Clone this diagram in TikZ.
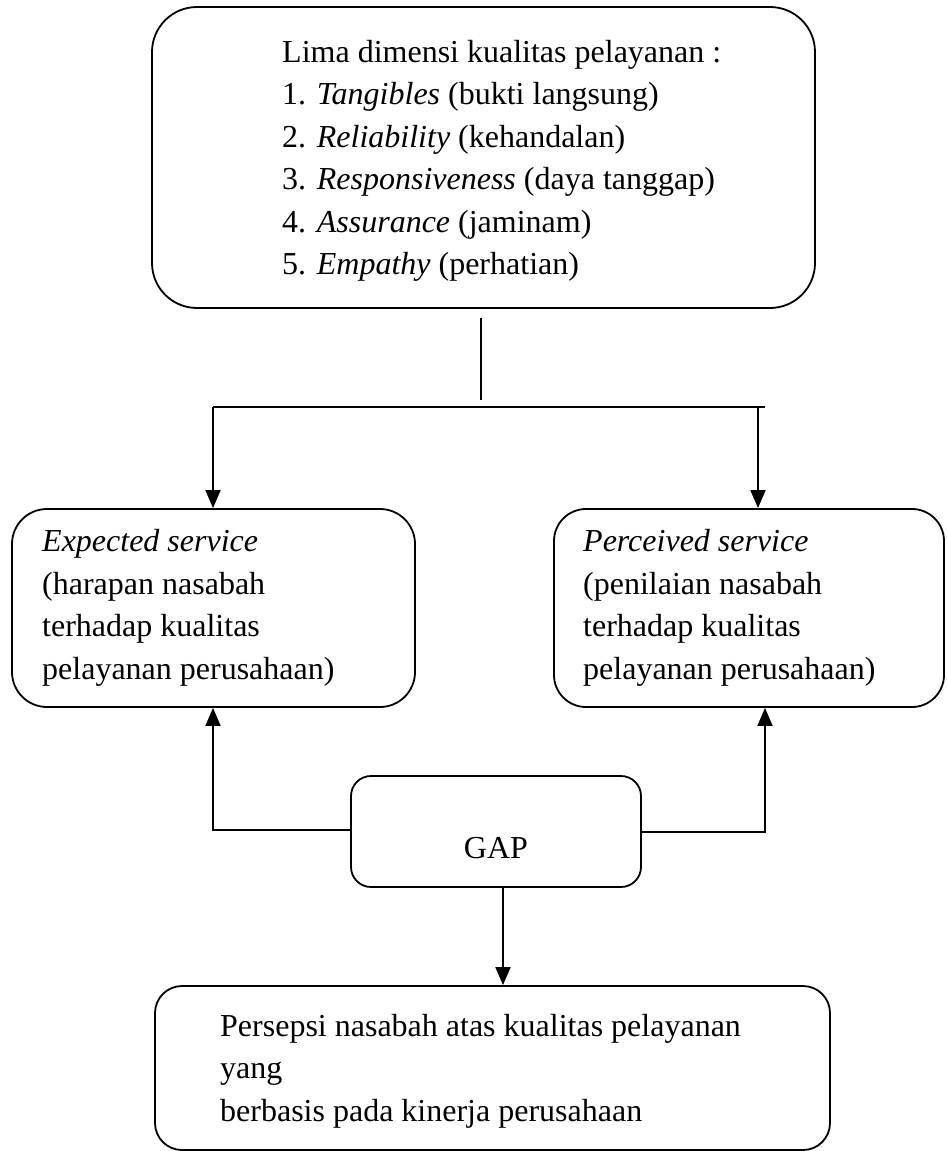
\documentclass[tikz,border=0pt]{standalone}
\usepackage{fontspec}
\setmainfont{Liberation Serif}
\usetikzlibrary{arrows.meta,calc}
\begin{document}
\begin{tikzpicture}[x=1pt,y=-1pt,
  box/.style={draw, line width=1.8pt, rectangle, inner sep=0pt},
  txt/.style={anchor=west, align=left, inner sep=0pt, font=\fontsize{32pt}{42.5pt}\selectfont},
  conn/.style={line width=1.8pt},
  arr/.style={line width=1.8pt, -{Triangle[length=18pt,width=15pt]}}]
\useasboundingbox (0,0) rectangle (946,1151);
% boxes
\node[box, rounded corners=45pt, minimum width=663pt, minimum height=301pt] (top) at (483.5,157.5) {};
\node[box, rounded corners=35pt, minimum width=403pt, minimum height=198pt] (exp) at (213.5,608) {};
\node[box, rounded corners=32pt, minimum width=390pt, minimum height=198pt] (per) at (749,608) {};
\node[box, rounded corners=20pt, minimum width=290pt, minimum height=111pt] (gap) at (496,831.5) {};
\node[box, rounded corners=27pt, minimum width=675pt, minimum height=164pt] (bot) at (492.5,1068) {};
% texts
\node[txt] (toptxt) at (282,161) {Lima dimensi kualitas pelayanan :\\
1. \textit{Tangibles} (bukti langsung)\\
2. \textit{Reliability} (kehandalan)\\
3. \textit{Responsiveness} (daya tanggap)\\
4. \textit{Assurance} (jaminam)\\
5. \textit{Empathy} (perhatian)};
\node[txt] (exptxt) at (42,608) {\textit{Expected service}\\(harapan nasabah\\terhadap kualitas\\pelayanan perusahaan)};
\node[txt] (pertxt) at (583,608) {\textit{Perceived service}\\(penilaian nasabah\\terhadap kualitas\\pelayanan perusahaan)};
\node[txt, anchor=center] (gaptxt) at (496,848) {GAP};
\node[txt] (bottxt) at (220,1071) {Persepsi nasabah atas kualitas pelayanan\\yang\\berbasis pada kinerja perusahaan};
% connectors
\coordinate (vt) at (481,318);
\coordinate (vb) at (481,400);
\draw[conn] (vt) -- (vb);
\coordinate (hl) at (213,407);
\coordinate (hr) at (765,407);
\coordinate (hra) at (758,407);
\draw[conn] (hl) -- (hr);
\draw[arr] (hl) -- (hl |- exp.north);
\draw[arr] (hra) -- (hra |- per.north);
\coordinate (gl) at (213,830);
\coordinate (gr) at (765,832);
\draw[arr] (gap.west |- gl) -- (gl) -- (gl |- exp.south);
\draw[arr] (gap.east |- gr) -- (gr) -- (gr |- per.south);
\coordinate (gd) at (503,900);
\draw[arr] (gap.south -| gd) -- (gd |- bot.north);
\end{tikzpicture}
\end{document}
